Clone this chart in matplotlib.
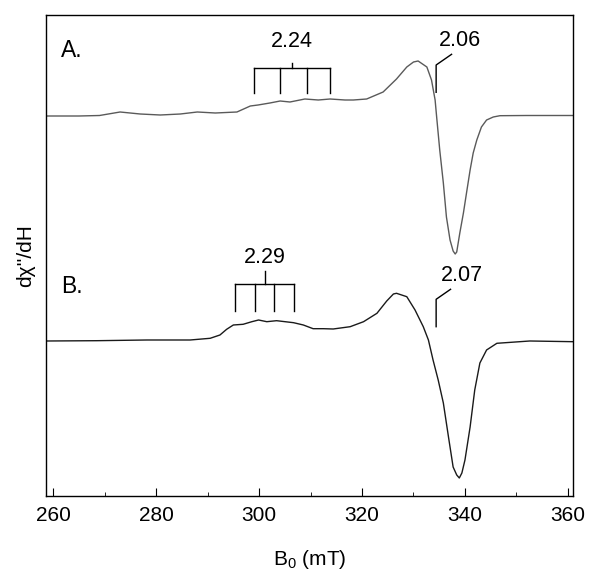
import matplotlib
matplotlib.use("Agg")
import matplotlib.pyplot as plt
from matplotlib.ticker import MultipleLocator

plt.rcParams['font.family'] = ['Liberation Sans', 'DejaVu Sans']

# trace A (field in mT, signal relative to its baseline)
field_a = [258.6, 265, 269, 273.0, 276.9, 280.8, 284.7, 288.0, 291.5, 295.7, 298.3,
           299.8, 302.1, 304.1, 306.0, 308.9, 311.5, 313.8, 316.7, 318.3, 320.9,
           324.1, 326.7, 328.7, 330.0, 330.9, 332.6, 333.5, 334.2, 334.5, 335.1,
           335.8, 336.4, 337.1, 337.7, 338.1, 338.4, 339.0, 339.7, 340.3, 341.0, 341.6,
           342.3, 343.2, 344.2, 345.5, 346.8, 352, 361]
signal_a = [0, 0, 0.5, 4, 2, 1, 2, 4, 3, 4, 10,
            11, 13, 15, 14, 17, 16, 17, 16, 16, 17,
            24, 37, 49, 54, 55, 49, 36, 16, -1, -34,
            -67, -101, -124, -135, -138, -136, -117, -97, -77, -54, -37,
            -24, -11, -4, -1, 0.3, 0.5, 0.5]

# trace B
field_b = [258.8, 268.5, 278.2, 286.6, 290.5, 292.4, 293.7, 295.0, 296.9, 298.6,
           299.9, 301.5, 303.4, 306.7, 308.6, 310.5, 312.5, 314.4, 317.7, 320.3,
           322.9, 324.8, 326.1, 326.7, 328.7, 330.3, 331.9, 332.9, 333.8, 334.8,
           335.8, 336.8, 337.7, 338.4, 338.9, 339.4, 340.0, 341.0, 341.9, 342.9, 344.2, 346.2,
           352.6, 361]
signal_b = [0, 0.3, 1, 1, 2.7, 6, 11.7, 16, 16.7, 19.3,
            21, 19.3, 20.3, 18.3, 16, 12.3, 12.3, 12, 14.3, 19.3,
            27.7, 40, 47, 47.7, 44.3, 31, 14.3, 1, -19, -39,
            -62, -96, -126, -134, -137, -132, -119, -86, -49, -22, -9, -2.3,
            0, -0.7]

offset_a = 380
offset_b = 155

# hyperfine stick positions (mT)
sticks_a = [299.0, 304.1, 309.3, 313.8]
sticks_b = [295.4, 299.3, 302.9, 306.8]
g_labels = ["2.24", "2.29", "2.06", "2.07"]
g_perp_field = 334.4

fig = plt.figure(figsize=(6.01, 5.77), dpi=100)
ax = fig.add_axes([0.0765, 0.1404, 0.877, 0.8336])

ax.plot(field_a, [s + offset_a for s in signal_a], color='#5a5a5a', lw=1.0)
ax.plot(field_b, [s + offset_b for s in signal_b], color='#1a1a1a', lw=1.0)

# comb for A
bar_y, leg_y, stem_y = 427.7, 403.3, 433
ax.plot([sticks_a[0], sticks_a[-1]], [bar_y, bar_y], color='k', lw=1)
for s in sticks_a:
    ax.plot([s, s], [leg_y, bar_y], color='k', lw=1)
mid_a = (sticks_a[0] + sticks_a[-1]) / 2
ax.plot([mid_a, mid_a], [bar_y, stem_y], color='k', lw=1)
ax.text(mid_a, 455, g_labels[0], ha='center', va='center', fontsize=15.5)

# comb for B
bar_y, leg_y, stem_y = 211.7, 185.3, 225.3
ax.plot([sticks_b[0], sticks_b[-1]], [bar_y, bar_y], color='k', lw=1)
for s in sticks_b:
    ax.plot([s, s], [leg_y, bar_y], color='k', lw=1)
mid_b = (sticks_b[0] + sticks_b[-1]) / 2
ax.plot([mid_b, mid_b], [bar_y, stem_y], color='k', lw=1)
ax.text(mid_b, 238, g_labels[1], ha='center', va='center', fontsize=15.5)

# g-perp markers
ax.plot([g_perp_field, g_perp_field, 337.4], [403.7, 431, 441.7], color='k', lw=1)
ax.text(339.0, 456, g_labels[2], ha='center', va='center', fontsize=15.5)
ax.plot([g_perp_field, g_perp_field, 337.2], [169.3, 196.7, 206.7], color='k', lw=1)
ax.text(339.5, 220.5, g_labels[3], ha='center', va='center', fontsize=15.5)

ax.text(261.5, 446, "A.", ha='left', va='center', fontsize=16.5)
ax.text(261.5, 209.5, "B.", ha='left', va='center', fontsize=16.5)

ax.set_xlim(258.6, 361)
ax.set_ylim(0, 481)
ax.xaxis.set_major_locator(MultipleLocator(20))
ax.xaxis.set_minor_locator(MultipleLocator(10))
ax.tick_params(axis='x', which='major', direction='in', length=6, labelsize=15, pad=7)
ax.tick_params(axis='x', which='minor', direction='in', length=3)
ax.set_yticks([])
for sp in ax.spines.values():
    sp.set_linewidth(1.0)

ax.set_xlabel(r"B$_\mathregular{0}$ (mT)", fontsize=15, labelpad=17)
ax.set_ylabel("d\u03c7''/dH", fontsize=15, labelpad=8)

fig.savefig("out.png", dpi=100)
